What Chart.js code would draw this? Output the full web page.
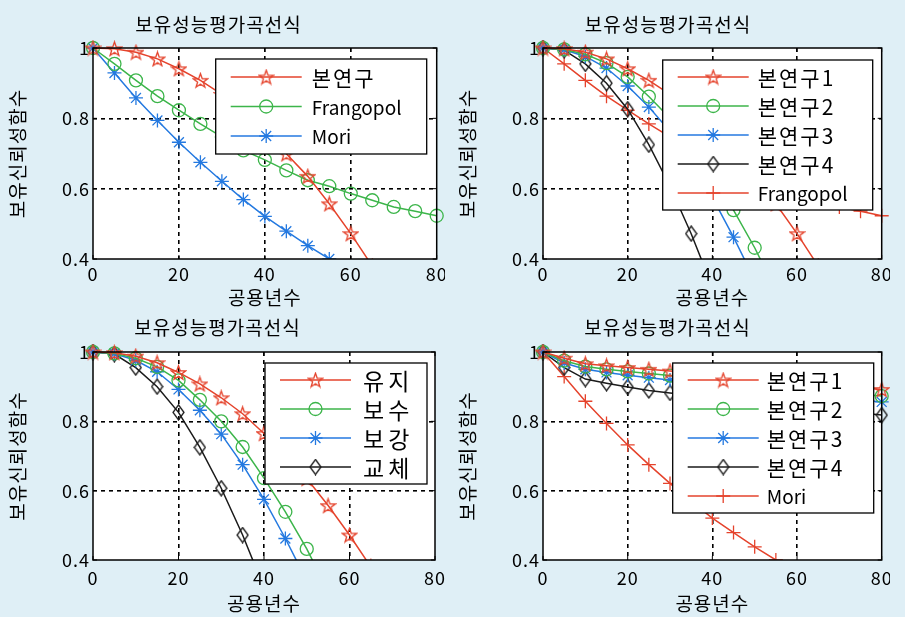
<!DOCTYPE html>
<html>
<head>
<meta charset="utf-8">
<script src="https://cdn.jsdelivr.net/npm/chart.js@4.4.0/dist/chart.umd.min.js"></script>
<style>
  html, body { margin: 0; padding: 0; background: #dfeff6; }
  body { width: 905px; height: 617px; position: relative; overflow: hidden; }
  .panel { position: absolute; }
</style>
</head>
<body>
<div class="panel" style="left:0;top:0"><canvas id="c1" width="445" height="312"></canvas></div>
<div class="panel" style="left:450px;top:0"><canvas id="c2" width="440" height="312"></canvas></div>
<div class="panel" style="left:0;top:312px"><canvas id="c3" width="445" height="305"></canvas></div>
<div class="panel" style="left:450px;top:312px"><canvas id="c4" width="440" height="305"></canvas></div>

<script>
// 공용년수 (x) and 보유신뢰성함수 values
const YEARS = [0, 5, 10, 15, 20, 25, 30, 35, 40, 45, 50, 55, 60, 65, 70, 75, 80];
const X_TICKS = [0, 20, 40, 60, 80];
const Y_TICKS = [0.4, 0.6, 0.8, 1];

const TITLE = '보유성능평가곡선식';
const X_TITLE = '공용년수';
const Y_TITLE = '보유신뢰성함수';

// panel 1 / panel 2 / panel 3 curves
const BON = [1.0, 0.998, 0.988, 0.969, 0.941, 0.908, 0.868, 0.822, 0.765, 0.699, 0.635, 0.557, 0.472, 0.38];
const FRANGOPOL = [1.0, 0.955, 0.908, 0.863, 0.823, 0.784, 0.747, 0.709, 0.682, 0.652, 0.624, 0.607, 0.586, 0.567, 0.548, 0.536, 0.523];
const MORI = [1.0, 0.929, 0.858, 0.794, 0.732, 0.675, 0.621, 0.569, 0.521, 0.479, 0.438, 0.400];
const BON2 = [1.0, 0.996, 0.982, 0.957, 0.918, 0.862, 0.800, 0.726, 0.636, 0.539, 0.432, 0.31];
const BON3 = [1.0, 0.995, 0.976, 0.943, 0.892, 0.832, 0.763, 0.675, 0.575, 0.462, 0.34];
const BON4 = [1.0, 0.994, 0.955, 0.900, 0.826, 0.725, 0.607, 0.472, 0.32];

// panel 4 curves
const P4_BON1 = [1.0, 0.982, 0.966, 0.960, 0.955, 0.950, 0.945, 0.940, 0.935, 0.930, 0.925, 0.920, 0.915, 0.909, 0.903, 0.897, 0.892];
const P4_BON2 = [1.0, 0.975, 0.958, 0.950, 0.944, 0.938, 0.932, 0.926, 0.920, 0.914, 0.908, 0.902, 0.896, 0.890, 0.884, 0.878, 0.873];
const P4_BON3 = [1.0, 0.968, 0.950, 0.941, 0.933, 0.926, 0.919, 0.912, 0.905, 0.898, 0.892, 0.886, 0.880, 0.874, 0.868, 0.862, 0.856];
const P4_BON4 = [1.0, 0.955, 0.922, 0.910, 0.899, 0.889, 0.882, 0.876, 0.869, 0.863, 0.856, 0.850, 0.843, 0.837, 0.831, 0.824, 0.818];

const RED = '#e5432c';
const GREEN = '#3cb54a';
const BLUE = '#2479e0';
const BLACK = '#1a1a1a';
const FONT = "'Noto Sans CJK KR', 'Noto Sans', sans-serif";

// MATLAB-like markers the library doesn't have
function pentagram(color) {
  const c = document.createElement('canvas');
  c.width = 17; c.height = 17;
  const g = c.getContext('2d');
  g.strokeStyle = color; g.lineWidth = 1.3;
  g.beginPath();
  for (let k = 0; k < 10; k++) {
    const r = k % 2 ? 3 : 7.5;
    const a = -Math.PI / 2 + k * Math.PI / 5;
    g.lineTo(8.5 + r * Math.cos(a), 9.2 + r * Math.sin(a));
  }
  g.closePath(); g.stroke();
  return c;
}
function diamond(color) {
  const c = document.createElement('canvas');
  c.width = 13; c.height = 17;
  const g = c.getContext('2d');
  g.strokeStyle = color; g.lineWidth = 1.3;
  g.beginPath();
  g.moveTo(6.5, 1); g.lineTo(12, 8.5); g.lineTo(6.5, 16); g.lineTo(1, 8.5);
  g.closePath(); g.stroke();
  return c;
}
const STAR_RED = pentagram(RED);
const DIAMOND_BLACK = diamond(BLACK);

function series(label, values, color, style, radius) {
  return {
    label,
    data: values.map((v, i) => ({ x: YEARS[i], y: v })),
    borderColor: color,
    backgroundColor: 'rgba(0,0,0,0)',
    borderWidth: 1.5,
    pointStyle: style,
    pointRadius: radius,
    pointBorderColor: color,
    pointBackgroundColor: 'rgba(0,0,0,0)',
    pointBorderWidth: 1.3,
    tension: 0,
    clip: { left: 12, top: 12, right: 12, bottom: 0 }
  };
}

const near = (a, b) => Math.abs(a - b) < 1e-6;

// white plot area, black box, inward tick marks
const framePlugin = {
  id: 'frame',
  beforeDraw(chart) {
    const { ctx, chartArea: a } = chart;
    ctx.save();
    ctx.fillStyle = '#fff';
    ctx.fillRect(a.left, a.top, a.width, a.height);
    ctx.restore();
    ctx.letterSpacing = '1px';
  },
  afterDatasetsDraw(chart) {
    const { ctx, chartArea: a, scales } = chart;
    ctx.save();
    ctx.letterSpacing = '0px';
    ctx.strokeStyle = '#000';
    ctx.lineWidth = 1.5;
    ctx.setLineDash([]);
    ctx.strokeRect(a.left, a.top, a.width, a.height);
    ctx.lineWidth = 1;
    ctx.beginPath();
    X_TICKS.forEach(v => {
      const px = scales.x.getPixelForValue(v);
      ctx.moveTo(px, a.bottom); ctx.lineTo(px, a.bottom - 4);
      ctx.moveTo(px, a.top); ctx.lineTo(px, a.top + 4);
    });
    Y_TICKS.forEach(v => {
      const py = scales.y.getPixelForValue(v);
      ctx.moveTo(a.left, py); ctx.lineTo(a.left + 4, py);
      ctx.moveTo(a.right, py); ctx.lineTo(a.right - 4, py);
    });
    ctx.stroke();
    ctx.restore();
  }
};

// legend box drawn inside the plot, top right
const boxLegend = {
  id: 'boxLegend',
  afterDatasetsDraw(chart, args, o) {
    if (!o || !o.width) return;
    const { ctx, chartArea: a } = chart;
    const sets = chart.data.datasets;
    const x0 = a.right - o.right - o.width;
    const y0 = a.top + o.top;
    const h = o.padY * 2 + o.rowH * (sets.length - 1);
    ctx.save();
    ctx.setLineDash([]);
    ctx.fillStyle = '#fff';
    ctx.fillRect(x0, y0, o.width, h);
    ctx.strokeStyle = '#000';
    ctx.lineWidth = 1.3;
    ctx.strokeRect(x0, y0, o.width, h);
    sets.forEach((ds, i) => {
      const y = y0 + o.padY + i * o.rowH;
      ctx.strokeStyle = ds.borderColor;
      ctx.lineWidth = ds.borderWidth;
      ctx.beginPath();
      ctx.moveTo(x0 + 15, y); ctx.lineTo(x0 + 86, y);
      ctx.stroke();
      ctx.fillStyle = 'rgba(0,0,0,0)';
      ctx.lineWidth = ds.pointBorderWidth;
      Chart.helpers.drawPoint(ctx, {
        pointStyle: ds.pointStyle, radius: ds.pointRadius,
        borderWidth: ds.pointBorderWidth, rotation: 0
      }, x0 + 50.5, y);
      const hangul = /[가-힣]/.test(ds.label);
      ctx.letterSpacing = (hangul ? o.spacing : 0) + 'px';
      ctx.fillStyle = '#000';
      ctx.font = (hangul ? o.fontSize : o.latinSize) + 'px ' + FONT;
      ctx.textBaseline = 'middle';
      ctx.textAlign = 'left';
      ctx.fillText(ds.label, x0 + o.textX, y + 1);
    });
    ctx.restore();
  }
};

Chart.register(framePlugin, boxLegend);

function makeChart(id, datasets, lay) {
  return new Chart(document.getElementById(id), {
    type: 'line',
    data: { datasets },
    options: {
      responsive: false,
      animation: false,
      events: [],
      layout: { padding: { left: 0, top: 0, right: lay.padRight, bottom: 0 } },
      plugins: {
        legend: { display: false },
        tooltip: { enabled: false },
        title: {
          display: true, text: TITLE, color: '#000',
          font: { family: FONT, size: 19, weight: 'normal' },
          padding: lay.titlePad
        },
        boxLegend: lay.legend
      },
      scales: {
        x: {
          type: 'linear', min: 0, max: 80,
          afterBuildTicks: s => { s.ticks = X_TICKS.map(v => ({ value: v })); },
          ticks: { color: '#000', font: { family: FONT, size: 18 }, padding: lay.xTickPad, maxRotation: 0 },
          grid: {
            drawTicks: false, lineWidth: 1.6,
            color: c => (near(c.tick.value, 0) || near(c.tick.value, 80)) ? 'rgba(0,0,0,0)' : '#000'
          },
          border: { display: false, dash: [4, 4] },
          title: {
            display: true, text: X_TITLE, color: '#000',
            font: { family: FONT, size: 19 }, padding: { top: 0, bottom: lay.xTitlePad }
          },
          afterFit: s => { s.height = lay.xHeight; s.paddingLeft = 0; s.paddingRight = 0; }
        },
        y: {
          type: 'linear', min: 0.4, max: 1,
          afterBuildTicks: s => { s.ticks = Y_TICKS.map(v => ({ value: v })); },
          ticks: {
            color: '#000', font: { family: FONT, size: 18 }, padding: 3,
            callback: v => near(v, 1) ? '1' : v.toFixed(1)
          },
          grid: {
            drawTicks: false, lineWidth: 1.6,
            color: c => (near(c.tick.value, 0.4) || near(c.tick.value, 1)) ? 'rgba(0,0,0,0)' : '#000'
          },
          border: { display: false, dash: [4, 4] },
          title: {
            display: true, text: Y_TITLE, color: '#000',
            font: { family: FONT, size: 19 }, padding: { top: 6, bottom: 0 }
          },
          afterFit: s => { s.width = 93; s.paddingTop = 0; s.paddingBottom = 0; }
        }
      }
    }
  });
}

const topLay = { titlePad: { top: 13, bottom: 12.2 }, xTickPad: 4, xTitlePad: 3, xHeight: 53 };
const botLay = { titlePad: { top: 4, bottom: 13.2 }, xTickPad: 7, xTitlePad: 2, xHeight: 57 };

makeChart('c1', [
  series('본연구', BON, RED, STAR_RED, 7),
  series('Frangopol', FRANGOPOL, GREEN, 'circle', 6.5),
  series('Mori', MORI, BLUE, 'star', 7)
], Object.assign({}, topLay, { padRight: 8,
  legend: { right: 10, top: 11, width: 211, rowH: 29.5, padY: 18, textX: 96, fontSize: 21, latinSize: 19, spacing: 2 } }));

makeChart('c2', [
  series('본연구1', BON, RED, STAR_RED, 7),
  series('본연구2', BON2, GREEN, 'circle', 6.5),
  series('본연구3', BON3, BLUE, 'star', 7),
  series('본연구4', BON4, BLACK, DIAMOND_BLACK, 7),
  series('Frangopol', FRANGOPOL, RED, 'cross', 7)
], Object.assign({}, topLay, { padRight: 4,
  legend: { right: 9, top: 12, width: 210, rowH: 29, padY: 17, textX: 95, fontSize: 21, latinSize: 19, spacing: 2 } }));

makeChart('c3', [
  series('유지', BON, RED, STAR_RED, 7),
  series('보수', BON2, GREEN, 'circle', 6.5),
  series('보강', BON3, BLUE, 'star', 7),
  series('교체', BON4, BLACK, DIAMOND_BLACK, 7)
], Object.assign({}, botLay, { padRight: 10,
  legend: { right: 8, top: 11, width: 162, rowH: 29, padY: 17, textX: 98, fontSize: 23, latinSize: 19, spacing: 4 } }));

makeChart('c4', [
  series('본연구1', P4_BON1, RED, STAR_RED, 7),
  series('본연구2', P4_BON2, GREEN, 'circle', 6.5),
  series('본연구3', P4_BON3, BLUE, 'star', 7),
  series('본연구4', P4_BON4, BLACK, DIAMOND_BLACK, 7),
  series('Mori', MORI, RED, 'cross', 7)
], Object.assign({}, botLay, { padRight: 5,
  legend: { right: 8, top: 11, width: 201, rowH: 29, padY: 17, textX: 94, fontSize: 21, latinSize: 19, spacing: 2 } }));
</script>
</body>
</html>
